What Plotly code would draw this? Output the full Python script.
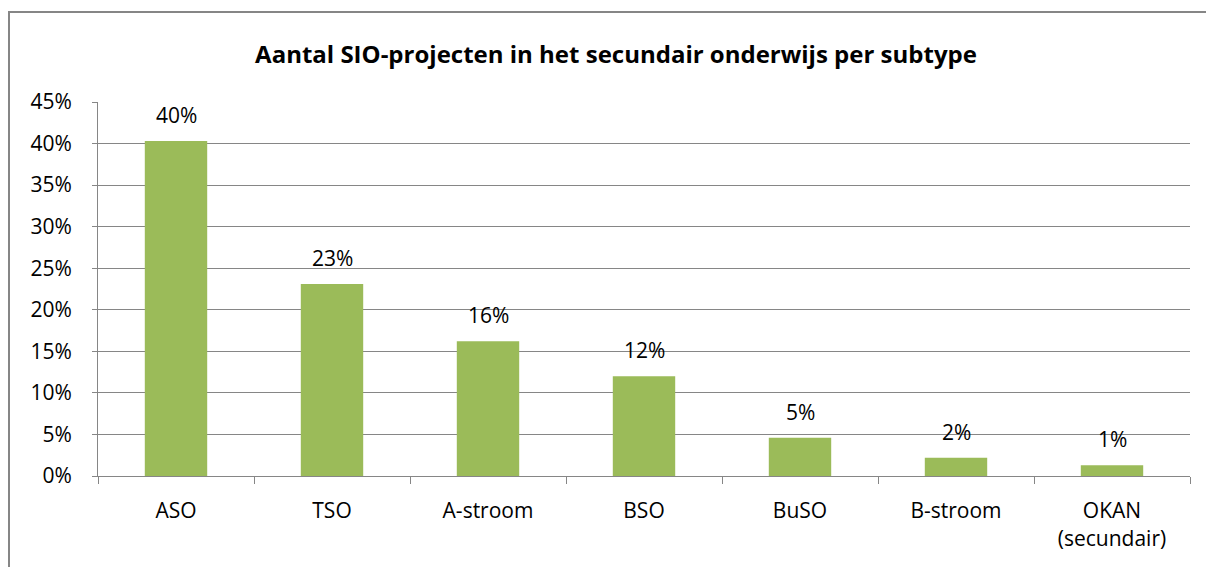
import plotly.graph_objects as go

categories = ["ASO", "TSO", "A-stroom", "BSO", "BuSO", "B-stroom", "OKAN<br>(secundair)"]
shares = [40.3, 23.1, 16.2, 12.0, 4.6, 2.2, 1.3]
labels = ["40%", "23%", "16%", "12%", "5%", "2%", "1%"]
y_ticks = [0, 5, 10, 15, 20, 25, 30, 35, 40, 45]
y_ticklabels = ["0%", "5%", "10%", "15%", "20%", "25%", "30%", "35%", "40%", "45%"]

# page has an 8px body margin, so the figure sits at (8, 8)
W, H = 1214, 567
L, R, T, B = 90, 32, 94, 99
pw, ph = W - L - R, H - T - B
FONT = "'Open Sans', sans-serif"
GRID = "#868686"
FS = 21

fig = go.Figure()
fig.add_trace(go.Bar(
    x=categories,
    y=shares,
    marker_color="#9BBB59",
    marker_line_width=0,
    hoverinfo="skip",
    showlegend=False,
))

# data labels above the bars
for c, v, t in zip(categories, shares, labels):
    fig.add_annotation(x=c, y=v, text=t, showarrow=False, yanchor="bottom",
                       yshift=10, font=dict(size=FS, color="#000000", family=FONT))

# outer chart border (runs off the right/bottom edge)
fig.add_shape(type="rect", xref="paper", yref="paper",
              x0=(1 - L) / pw, x1=(W + 20 - L) / pw,
              y0=-(B + 20) / ph, y1=(H - B - 4) / ph,
              line=dict(color=GRID, width=2), layer="below")

fig.update_layout(
    width=W, height=H,
    margin=dict(l=L, r=R, t=T, b=B),
    paper_bgcolor="white",
    plot_bgcolor="white",
    bargap=0.6,
    font=dict(family=FONT, size=FS, color="#000000"),
    title=dict(text="<b>Aantal SIO-projecten in het secundair onderwijs per subtype</b>",
               x=608 / W, xanchor="center", y=1 - 47 / H, yanchor="middle",
               font=dict(size=24, family=FONT, color="#000000")),
)
fig.update_xaxes(
    showline=True, linecolor=GRID, linewidth=1,
    ticks="outside", tickson="boundaries", ticklen=7, tickcolor=GRID,
    ticklabelstandoff=16,
    tickfont=dict(size=FS),
)
fig.update_yaxes(
    range=[0, 45], tickvals=y_ticks, ticktext=y_ticklabels,
    showline=True, linecolor=GRID, linewidth=1,
    showgrid=True, gridcolor=GRID, gridwidth=1,
    ticks="outside", ticklen=5, tickcolor=GRID,
    ticklabelstandoff=16,
    tickfont=dict(size=FS),
    zeroline=False,
)

fig.write_html("out.html")
